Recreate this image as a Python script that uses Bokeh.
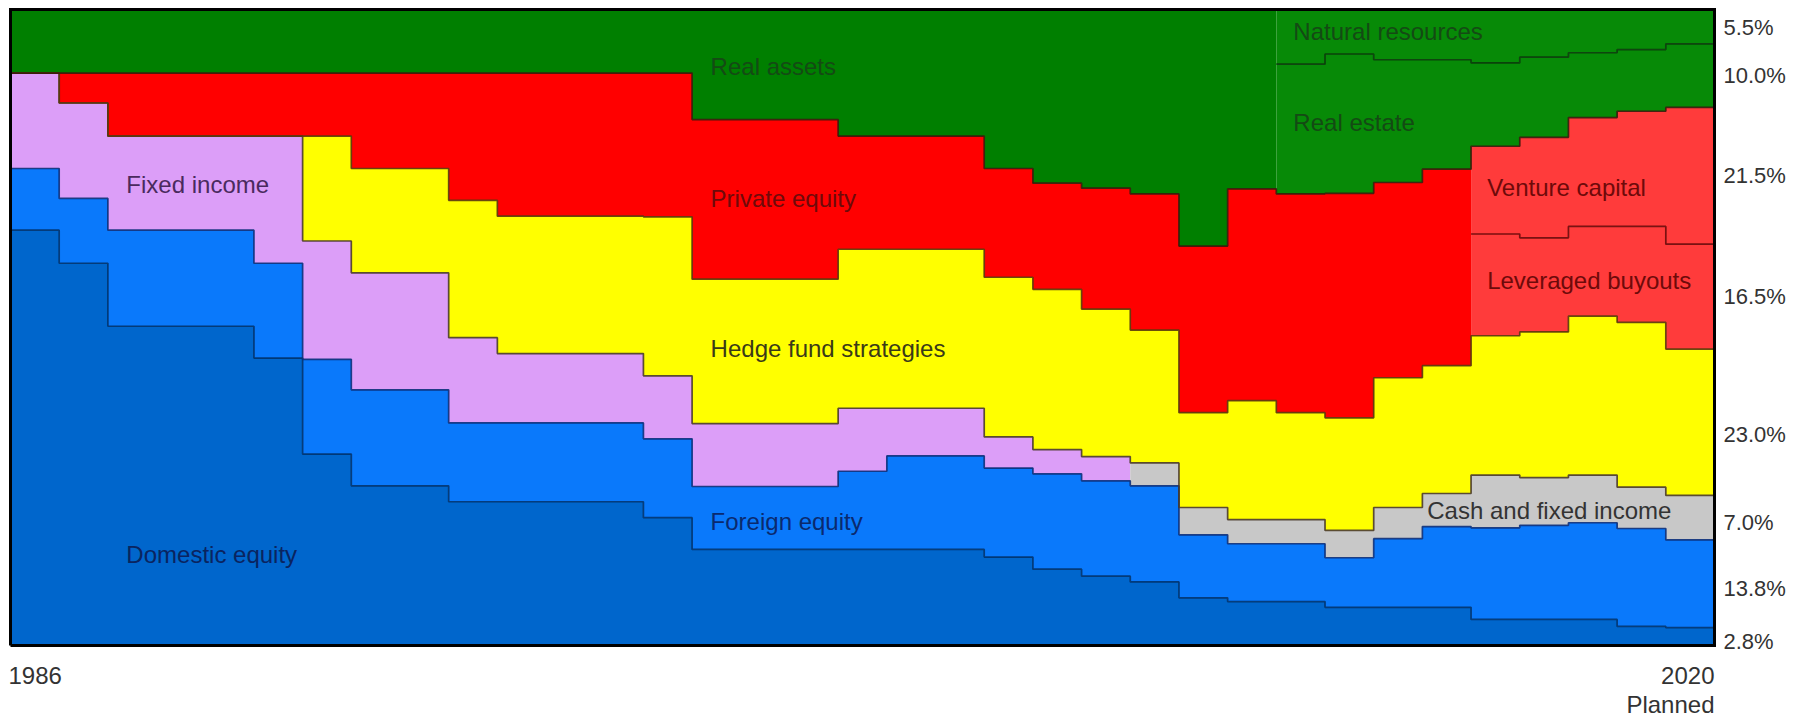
import numpy as np
from bokeh.plotting import figure
from bokeh.models import ColumnDataSource, Range1d, Label
from bokeh.embed import file_html
from bokeh.resources import INLINE

# ---------------- data (percent of portfolio) ----------------
years = list(range(1986, 2021))

domestic_equity = [65.3, 60.1, 50.2, 50.2, 50.2, 45.2, 30.1, 25.1, 25.1, 22.6, 22.6, 22.6,
                   22.6, 20.1, 15.1, 15.1, 15.1, 15.1, 15.1, 15.1, 13.9, 12.0, 10.9, 10.0,
                   7.5, 6.9, 6.9, 6.0, 6.0, 6.0, 4.1, 4.1, 4.1, 3.0, 2.8]
foreign_equity = [9.7, 10.2, 15.1, 15.1, 15.1, 14.9, 14.9, 15.1, 15.1, 12.4, 12.4, 12.4,
                  12.4, 12.4, 9.9, 9.9, 9.9, 12.3, 14.7, 14.7, 14.0, 15.0, 15.0, 15.1,
                  9.9, 9.1, 9.1, 7.8, 10.8, 12.7, 14.4, 14.8, 15.2, 15.4, 13.8]
fixed_income = [15.0, 15.0, 14.8, 14.8, 14.8, 20.0, 18.6, 18.4, 18.4, 13.4, 10.9, 10.9,
                10.9, 9.9, 9.9, 9.9, 9.9, 9.9, 7.5, 7.5, 4.9, 3.8, 3.8, 0, 0, 0, 0, 0,
                0, 0, 0, 0, 0, 0, 0]
cash_and_fixed_income = [0] * 23 + [3.6, 4.3, 3.8, 3.8, 4.3, 4.9, 5.2, 8.3, 7.5, 7.5, 6.5, 7.0]
hedge_funds = [0, 0, 0, 0, 0, 0, 16.5, 16.4, 16.4, 21.6, 21.6, 21.6, 21.6, 25.0, 22.7,
               22.7, 22.7, 25.0, 25.0, 25.0, 25.1, 25.2, 23.2, 20.9, 14.9, 18.7, 16.8,
               17.7, 20.4, 20.1, 21.9, 22.9, 25.0, 25.9, 23.0]
private_equity = [0, 4.7, 9.9, 9.9, 9.9, 9.9, 9.9, 15.0, 15.0, 20.0, 22.5, 22.5, 22.5,
                  22.6, 25.1, 25.1, 25.1, 17.8, 17.8, 17.8, 17.1, 16.7, 19.0, 21.4, 26.2,
                  33.3, 34.4, 35.3, 30.7, 30.9, 0, 0, 0, 0, 0]
leveraged_buyouts = [0] * 30 + [16.0, 14.8, 14.1, 15.1, 16.5]
venture_capital = [0] * 30 + [13.8, 15.8, 17.1, 18.1, 21.5]
real_assets = [10.0] * 14 + [17.3, 17.3, 17.3, 19.9, 19.9, 19.9, 25.0, 27.3, 28.1, 29.0,
                             37.2, 28.2] + [0] * 9
real_estate = [0] * 26 + [20.4, 21.9, 19.3, 17.2, 13.1, 12.6, 10.2, 9.7, 10.0]
natural_resources = [0] * 26 + [8.6, 7.0, 7.9, 7.9, 8.4, 7.5, 6.8, 6.3, 5.5]

start_label = "1986"
end_label = "2020"
end_sub_label = "Planned"

# ---------------- styling ----------------
series = {
    "domestic_equity": domestic_equity,
    "foreign_equity": foreign_equity,
    "fixed_income": fixed_income,
    "cash_and_fixed_income": cash_and_fixed_income,
    "hedge_funds": hedge_funds,
    "private_equity": private_equity,
    "leveraged_buyouts": leveraged_buyouts,
    "venture_capital": venture_capital,
    "real_assets": real_assets,
    "real_estate": real_estate,
    "natural_resources": natural_resources,
}
fills = ["#0066CC", "#0A79FB", "#DC9EF8", "#C8C8C8", "#FFFF00", "#FF0000",
         "#FF3B3B", "#FF3B3B", "#007F00", "#078A07", "#078A07"]

n = len(years)
names = list(series)

xs = []
for i in range(n):
    xs += [i, i + 1]
data = {"x": xs}
for k in names:
    data[k] = [v for v in series[k] for _ in range(2)]
source = ColumnDataSource(data)

# canvas geometry: chart box spans pixels 10..1714 (x) and 9..645 (y)
W, H = 1790, 720
LEFT, RIGHT, TOP, BOTTOM = 10.0, 1714.0, 9.0, 645.0
px_per_x = (RIGHT - LEFT) / n
px_per_y = (BOTTOM - TOP) / 100.0
x_range = Range1d(-LEFT / px_per_x, n + (W - RIGHT) / px_per_x)
y_range = Range1d(-(H - BOTTOM) / px_per_y, 100 + TOP / px_per_y)

p = figure(width=W, height=H, output_backend="svg", toolbar_location=None,
           x_range=x_range, y_range=y_range,
           x_axis_type=None, y_axis_type=None,
           min_border_left=0, min_border_right=0,
           min_border_top=0, min_border_bottom=0)
p.grid.visible = False
p.background_fill_color = "white"
p.border_fill_color = "white"
p.outline_line_color = None

p.varea_stack(stackers=names, x="x", color=fills, source=source)

cum = np.cumsum(np.array([series[k] for k in names], dtype=float), axis=0)


def step_line(vals, start, color):
    lx, ly = [], []
    for i in range(start, n):
        lx += [i, i + 1]
        ly += [vals[i], vals[i]]
    p.line(lx, ly, line_color=color, line_width=1.7, line_alpha=0.9)


step_line(cum[0], 0, "#00336e")   # domestic top
step_line(cum[1], 0, "#0b2f7a")   # foreign top
step_line(cum[3], 0, "#4a3a2a")   # fixed income / cash top
step_line(cum[4], 0, "#5a3a0a")   # hedge fund top
step_line(cum[6], 30, "#6a0a0a")  # leveraged buyouts top
step_line(cum[7], 0, "#3a1a0a")   # private markets top
step_line(cum[9], 26, "#0b3b0b")  # real estate top

# chart border
p.line([0, n, n, 0, 0], [0, 0, 100, 100, 0], line_color="black", line_width=3,
       line_join="miter")

FONT = "Liberation Sans"


def add_label(x, y, text, color, size="24px", align="left", baseline="alphabetic"):
    p.add_layout(Label(x=x, y=y, text=text, text_color=color, text_font=FONT,
                       text_font_size=size, text_align=align, text_baseline=baseline))


add_label(14.38, 91.1, "Real assets", "#144a14")
add_label(14.38, 70.3, "Private equity", "#6e0a0a")
add_label(14.38, 46.7, "Hedge fund strategies", "#3a3a18")
add_label(14.38, 19.5, "Foreign equity", "#0a2a6e")
add_label(2.38, 14.3, "Domestic equity", "#0a2460")
add_label(2.38, 72.5, "Fixed income", "#4a2a5e")
add_label(26.35, 96.5, "Natural resources", "#144a14")
add_label(26.35, 82.2, "Real estate", "#144a14")
add_label(30.33, 72.0, "Venture capital", "#6e0a0a")
add_label(30.33, 57.4, "Leveraged buyouts", "#6e0a0a")
add_label(29.1, 21.2, "Cash and fixed income", "#333333")

# right-side final allocation labels, placed beside each band of the last column
last = n - 1
right_labels = [  # (series, vertical position in % of the chart height)
    ("natural_resources", 97.2), ("real_estate", 89.6), ("venture_capital", 73.9),
    ("leveraged_buyouts", 54.9), ("hedge_funds", 33.2), ("cash_and_fixed_income", 19.3),
    ("foreign_equity", 9.0), ("domestic_equity", 0.6),
]
for k, ypos in right_labels:
    val = series[k][last]
    add_label(n + 9 / px_per_x, ypos, f"{val:.1f}%", "#333333", size="22px",
              baseline="middle")

add_label(-2 / px_per_x, -30 / px_per_y, start_label, "#333333")
add_label(n, -30 / px_per_y, end_label, "#333333", align="right")
add_label(n, -59 / px_per_y, end_sub_label, "#333333", align="right")

open("out.html", "w").write(file_html(p, INLINE))
